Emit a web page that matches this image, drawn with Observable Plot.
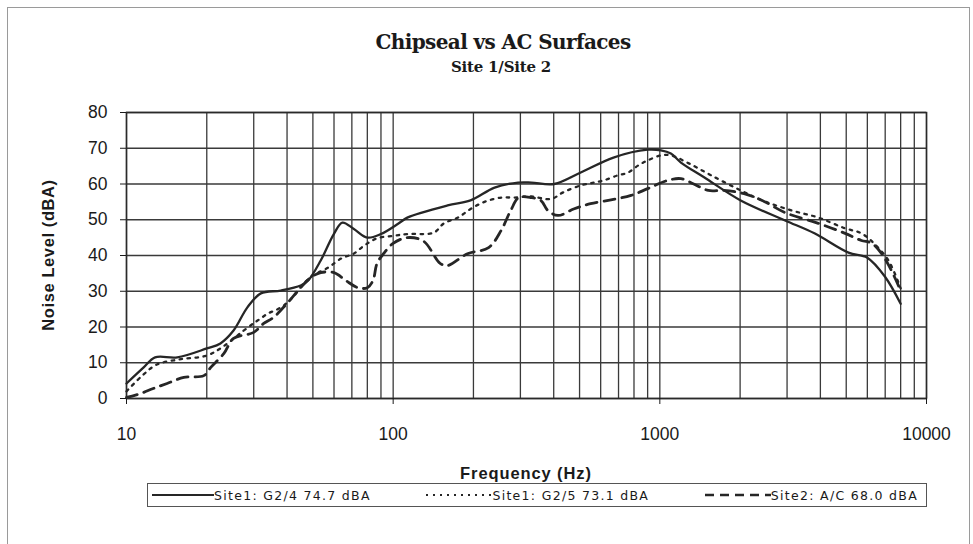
<!DOCTYPE html>
<html><head><meta charset="utf-8">
<script src="https://cdn.jsdelivr.net/npm/d3@7"></script>
<script src="https://cdn.jsdelivr.net/npm/@observablehq/plot@0.6"></script>
<style>
body{margin:0;background:#fff;}
#wrap{position:relative;width:973px;height:544px;overflow:hidden;font-family:"Liberation Sans",Arial,sans-serif;color:#1a1a1a;}
#border{position:absolute;left:7px;top:7px;width:961px;height:560px;border:1px solid #9a9a9a;}
#chart{position:absolute;left:0;top:0;}
#title{position:absolute;top:32px;left:0;width:1006px;text-align:center;font-family:"DejaVu Serif",serif;font-size:20px;line-height:1;font-weight:bold;letter-spacing:-0.6px;}
#subtitle{position:absolute;top:60px;left:0;width:1002px;text-align:center;font-family:"DejaVu Serif",serif;font-size:15px;line-height:1;font-weight:bold;letter-spacing:-0.2px;}
#ylab{position:absolute;left:48px;top:255px;transform:translate(-50%,-50%) rotate(-90deg);white-space:nowrap;font-weight:bold;font-size:16.5px;letter-spacing:0.6px;}
#xlab{position:absolute;left:0;width:1052px;top:464px;text-align:center;font-weight:bold;font-size:16.5px;letter-spacing:0.9px;}
#legend{position:absolute;left:147px;top:483px;width:780px;height:24px;border:1px solid #555;display:flex;align-items:center;justify-content:space-between;font-family:"DejaVu Sans",sans-serif;font-size:12.5px;letter-spacing:1.3px;box-sizing:border-box;padding:0 8px 0 4px;}
#legend .item{display:flex;align-items:center;}
#legend svg{display:block;flex:none;}
#legend span{white-space:nowrap;}
</style>
</head><body>
<div id="wrap">
  <div id="border"></div>
  <div id="chart"></div>
  <div id="title">Chipseal vs AC Surfaces</div>
  <div id="subtitle">Site 1/Site 2</div>
  <div id="ylab">Noise Level (dBA)</div>
  <div id="xlab">Frequency (Hz)</div>
  <div id="legend"></div>
</div>
<script>
// Site1: G2/4 (solid)
const freqG24 = [10, 11.6, 12.8, 15.5, 20, 22.5, 25.2, 28.4, 31.9, 37.9, 45, 48, 53.5, 59.9, 64.5, 71, 80, 90, 105, 113, 160, 195, 240, 294, 330, 402, 505, 670, 900, 1010, 1100, 1200, 1470, 2010, 2950, 3800, 5100, 6000, 7000, 8000];
const levelG24 = [4.2, 8.7, 11.5, 11.5, 14, 15.4, 19, 25.5, 29.4, 30.2, 31.6, 33, 38.6, 46, 49.2, 47.5, 45, 46, 49, 50.6, 54, 55.4, 59, 60.4, 60.4, 60, 63.2, 67.4, 69.6, 69.4, 68.5, 66, 61.8, 55.4, 49.8, 46.2, 40.8, 39.4, 34, 26.5];
// Site1: G2/5 (dotted)
const freqG25 = [10, 11.5, 13, 16, 20, 23, 27.5, 31, 34, 38, 42, 46, 50, 57, 64, 71, 78, 87, 100, 113, 142, 155, 175, 195, 220, 254, 285, 330, 390, 435, 505, 565, 615, 695, 760, 830, 900, 1010, 1100, 1290, 1560, 2010, 2420, 3120, 3930, 4950, 5700, 6350, 7200, 8000];
const levelG25 = [2, 6.5, 9.5, 11, 12, 14.5, 19, 21.8, 23.8, 25.5, 28.3, 32, 34.4, 36.6, 39.2, 40.5, 42.8, 44.8, 45.5, 46, 46.4, 49, 50.6, 53, 55, 56.2, 56.2, 56.5, 55.8, 57.7, 59.6, 60.4, 61, 62.4, 63.2, 65.2, 66.6, 68, 68, 65.7, 62.4, 58.2, 55.4, 52.6, 50.6, 47.6, 46.2, 43.4, 38.6, 30.8];
// Site2: A/C (dashed)
const freqAC = [10, 11.3, 12.6, 14.2, 16.4, 19.5, 20.7, 23.2, 25.2, 30, 32.7, 35.6, 40, 45, 49, 53.5, 60, 66.5, 73.6, 80, 84, 87, 92, 100, 113, 130, 150, 160, 190, 228, 254, 276, 296, 330, 358, 380, 415, 475, 550, 670, 780, 900, 1070, 1200, 1340, 1520, 1740, 2070, 2420, 2950, 3930, 4950, 5700, 6250, 7000, 8000];
const levelAC = [0.3, 1.4, 2.8, 4.2, 5.9, 6.4, 8.7, 12.6, 16.8, 18.5, 21, 22.7, 26.6, 31, 33.8, 35.2, 35.2, 33, 31, 31, 33, 37.8, 40.5, 43.4, 45, 44, 37.8, 37.2, 40.5, 42.2, 47, 52.6, 56.2, 56.2, 55.4, 52.6, 51.2, 53, 54.5, 55.7, 56.8, 58.7, 61, 61.5, 60, 58.2, 58.2, 57.3, 55.4, 52, 49, 46.2, 44.2, 43.4, 39, 30.2];

const seriesNames = ["Site1: G2/4 74.7 dBA", "Site1: G2/5 73.1 dBA", "Site2: A/C 68.0 dBA"];
const xTicks = [10, 100, 1000, 10000];
const yTicks = [0, 10, 20, 30, 40, 50, 60, 70, 80];
const gridMultipliers = [1, 2, 3, 4, 5, 6, 7, 8, 9];
const gridDecades = [10, 100, 1000];

const gridFreqs = gridDecades.flatMap(d => gridMultipliers.map(m => d * m)).concat([10000]);
const toRows = (fs, vs) => fs.map((f, i) => ({f, v: vs[i]}));
const rowsG24 = toRows(freqG24, levelG24);
const rowsG25 = toRows(freqG25, levelG25);
const rowsAC = toRows(freqAC, levelAC);

const ink = "#262626";
const styles = [
  {stroke: ink, strokeWidth: 2.3},
  {stroke: ink, strokeWidth: 2.3, strokeDasharray: "2.5,5.5"},
  {stroke: ink, strokeWidth: 2.8, strokeDasharray: "11,7"}
];

const chart = Plot.plot({
  width: 973,
  height: 544,
  marginTop: 112,
  marginRight: 47,
  marginBottom: 146,
  marginLeft: 126,
  style: {fontFamily: "Liberation Sans, Arial, sans-serif", fontSize: "17px", color: "#1a1a1a", background: "transparent"},
  x: {type: "log", domain: [10, 10000]},
  y: {domain: [0, 80]},
  marks: [
    Plot.ruleX(gridFreqs, {stroke: "#3a3a3a", strokeWidth: 1.3}),
    Plot.ruleY(yTicks, {stroke: "#3a3a3a", strokeWidth: 1.3}),
    Plot.frame({stroke: "#2a2a2a", strokeWidth: 1.5}),
    Plot.axisX(xTicks, {tickFormat: d => String(d), tickSize: 6, tickPadding: 23, fontSize: 17.5, label: null}),
    Plot.axisY(yTicks, {tickSize: 6, tickPadding: 13, fontSize: 17.5, label: null}),
    Plot.line(rowsG24, {x: "f", y: "v", curve: "catmull-rom", ...styles[0]}),
    Plot.line(rowsG25, {x: "f", y: "v", curve: "catmull-rom", ...styles[1]}),
    Plot.line(rowsAC, {x: "f", y: "v", curve: "catmull-rom", ...styles[2]})
  ]
});
document.getElementById("chart").appendChild(chart);

// legend
const legend = document.getElementById("legend");
const sampleWidths = [62, 66, 66];
seriesNames.forEach((name, i) => {
  const item = document.createElement("div");
  item.className = "item";
  const w = sampleWidths[i];
  const svg = d3.create("svg").attr("width", w).attr("height", 10);
  svg.append("line").attr("x1", 0).attr("x2", w).attr("y1", 5).attr("y2", 5)
    .attr("stroke", styles[i].stroke).attr("stroke-width", i === 2 ? 2.4 : 2)
    .attr("stroke-dasharray", styles[i].strokeDasharray ? (i === 1 ? "2,5" : "9,6") : null);
  item.appendChild(svg.node());
  const s = document.createElement("span");
  s.textContent = name;
  item.appendChild(s);
  legend.appendChild(item);
});
</script>
</body></html>
